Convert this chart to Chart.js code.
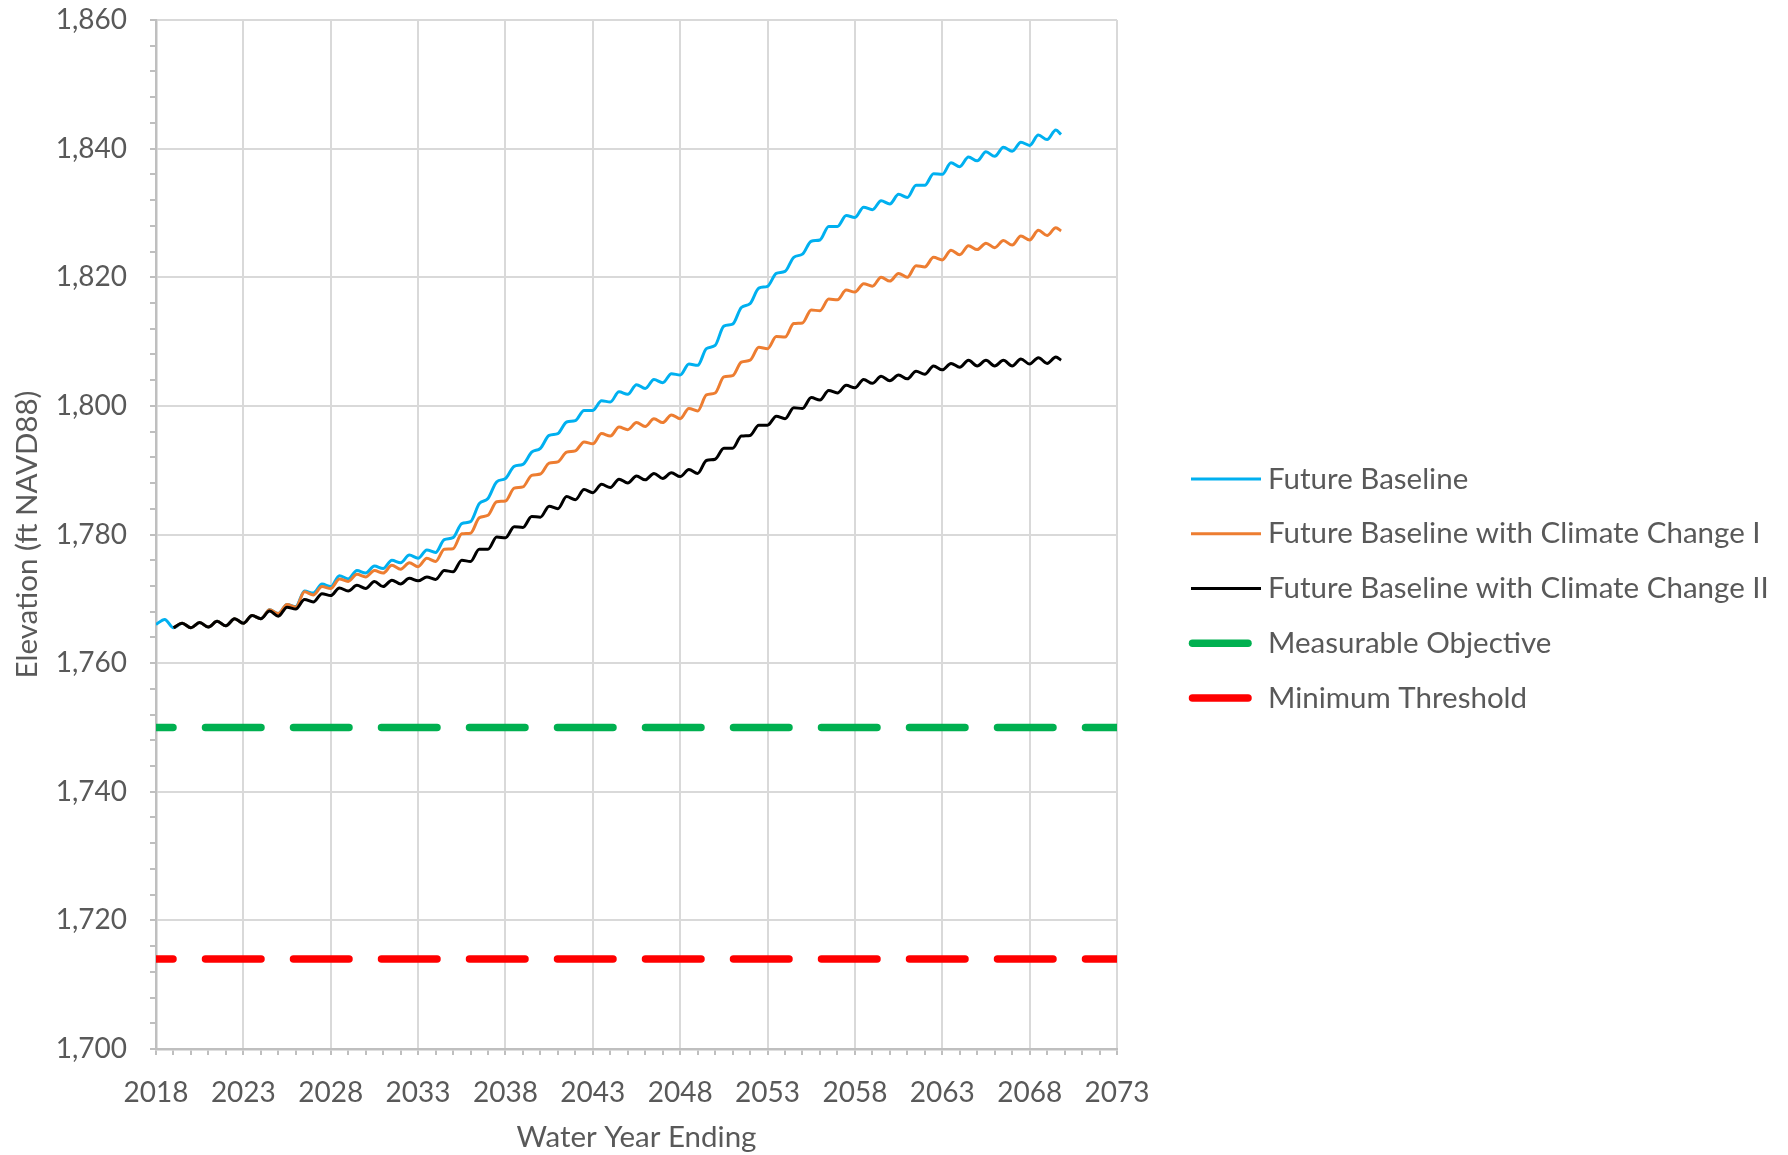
<!DOCTYPE html>
<html>
<head>
<meta charset="utf-8">
<title>Water Year Elevation Projections</title>
<script src="https://cdn.jsdelivr.net/npm/chart.js@4/dist/chart.umd.min.js"></script>
<style>
  html, body { margin: 0; padding: 0; background: #ffffff; }
  canvas { display: block; }
</style>
</head>
<body>
<canvas id="elevation-chart" width="1788" height="1155"></canvas>
<script>
// Water year time steps: end of year (low) and mid year (high) readings
const TIME = [
    2018, 2018.5, 2019, 2019.5, 2020, 2020.5, 2021, 2021.5, 2022, 2022.5,
    2023, 2023.5, 2024, 2024.5, 2025, 2025.5, 2026, 2026.5, 2027, 2027.5,
    2028, 2028.5, 2029, 2029.5, 2030, 2030.5, 2031, 2031.5, 2032, 2032.5,
    2033, 2033.5, 2034, 2034.5, 2035, 2035.5, 2036, 2036.5, 2037, 2037.5,
    2038, 2038.5, 2039, 2039.5, 2040, 2040.5, 2041, 2041.5, 2042, 2042.5,
    2043, 2043.5, 2044, 2044.5, 2045, 2045.5, 2046, 2046.5, 2047, 2047.5,
    2048, 2048.5, 2049, 2049.5, 2050, 2050.5, 2051, 2051.5, 2052, 2052.5,
    2053, 2053.5, 2054, 2054.5, 2055, 2055.5, 2056, 2056.5, 2057, 2057.5,
    2058, 2058.5, 2059, 2059.5, 2060, 2060.5, 2061, 2061.5, 2062, 2062.5,
    2063, 2063.5, 2064, 2064.5, 2065, 2065.5, 2066, 2066.5, 2067, 2067.5,
    2068, 2068.5, 2069, 2069.5, 2069.8,
];

const FUTURE_BASELINE = [
    1766.0, 1766.8, 1765.5, 1766.2, 1765.5, 1766.3, 1765.6, 1766.5, 1765.8, 1766.9,
    1766.2, 1767.4, 1766.9, 1768.3, 1767.7, 1769.1, 1768.8, 1771.2, 1770.9, 1772.3,
    1771.9, 1773.6, 1773.1, 1774.4, 1774.0, 1775.1, 1774.7, 1776.0, 1775.6, 1776.8,
    1776.3, 1777.6, 1777.2, 1779.2, 1779.5, 1781.7, 1782.0, 1784.8, 1785.6, 1788.2,
    1788.7, 1790.6, 1790.9, 1792.8, 1793.4, 1795.4, 1795.7, 1797.5, 1797.7, 1799.3,
    1799.3, 1800.8, 1800.6, 1802.2, 1801.8, 1803.3, 1802.7, 1804.1, 1803.6, 1805.0,
    1804.8, 1806.5, 1806.3, 1808.9, 1809.4, 1812.4, 1812.7, 1815.3, 1815.9, 1818.3,
    1818.6, 1820.6, 1820.9, 1823.1, 1823.6, 1825.6, 1825.8, 1827.9, 1827.9, 1829.6,
    1829.3, 1830.9, 1830.5, 1831.9, 1831.4, 1832.9, 1832.4, 1834.3, 1834.3, 1836.1,
    1836.0, 1837.8, 1837.2, 1838.7, 1838.1, 1839.5, 1838.8, 1840.2, 1839.6, 1841.0,
    1840.5, 1842.1, 1841.4, 1842.9, 1842.2,
];

const CLIMATE_CHANGE_I = [
    null, null, 1765.5, 1766.2, 1765.5, 1766.3, 1765.6, 1766.5, 1765.8, 1766.9,
    1766.2, 1767.4, 1766.9, 1768.3, 1767.7, 1769.1, 1768.7, 1771.1, 1770.6, 1771.9,
    1771.6, 1773.1, 1772.7, 1773.8, 1773.4, 1774.4, 1774.0, 1775.2, 1774.6, 1775.6,
    1775.0, 1776.3, 1775.8, 1777.7, 1777.8, 1780.1, 1780.2, 1782.6, 1783.0, 1785.1,
    1785.2, 1787.2, 1787.4, 1789.2, 1789.4, 1791.1, 1791.3, 1792.8, 1793.0, 1794.4,
    1794.1, 1795.7, 1795.3, 1796.7, 1796.3, 1797.4, 1796.8, 1798.0, 1797.4, 1798.6,
    1798.0, 1799.6, 1799.2, 1801.7, 1802.0, 1804.5, 1804.7, 1806.8, 1807.1, 1809.1,
    1808.9, 1810.8, 1810.7, 1812.8, 1812.9, 1814.9, 1814.8, 1816.6, 1816.5, 1818.0,
    1817.7, 1819.0, 1818.6, 1820.0, 1819.4, 1820.6, 1820.0, 1821.8, 1821.6, 1823.1,
    1822.7, 1824.2, 1823.5, 1824.9, 1824.3, 1825.3, 1824.6, 1825.7, 1825.0, 1826.4,
    1825.8, 1827.3, 1826.5, 1827.7, 1827.2,
];

const CLIMATE_CHANGE_II = [
    null, null, 1765.5, 1766.2, 1765.5, 1766.3, 1765.6, 1766.5, 1765.8, 1766.9,
    1766.2, 1767.4, 1766.9, 1768.1, 1767.3, 1768.7, 1768.4, 1769.9, 1769.5, 1770.8,
    1770.5, 1771.7, 1771.2, 1772.1, 1771.6, 1772.7, 1771.9, 1772.9, 1772.3, 1773.2,
    1772.8, 1773.4, 1773.0, 1774.4, 1774.2, 1776.0, 1775.8, 1777.7, 1777.7, 1779.6,
    1779.5, 1781.2, 1781.1, 1782.8, 1782.7, 1784.4, 1784.0, 1785.9, 1785.4, 1787.0,
    1786.5, 1787.8, 1787.3, 1788.6, 1788.0, 1789.1, 1788.5, 1789.5, 1788.7, 1789.6,
    1789.0, 1790.1, 1789.5, 1791.5, 1791.7, 1793.4, 1793.4, 1795.3, 1795.4, 1797.0,
    1797.0, 1798.4, 1798.0, 1799.7, 1799.6, 1801.3, 1800.9, 1802.4, 1802.0, 1803.2,
    1802.8, 1804.1, 1803.5, 1804.6, 1803.9, 1804.8, 1804.2, 1805.4, 1804.9, 1806.2,
    1805.6, 1806.6, 1806.0, 1807.1, 1806.2, 1807.1, 1806.2, 1807.1, 1806.2, 1807.3,
    1806.5, 1807.5, 1806.6, 1807.6, 1807.1,
];

const MEASURABLE_OBJECTIVE = 1750;
const MINIMUM_THRESHOLD = 1714;

const X_MIN = 2018;
const X_MAX = 2073;
const Y_MIN = 1700;
const Y_MAX = 1860;

const BLUE = '#00b0f0';
const ORANGE = '#ed7d31';
const BLACK = '#000000';
const GREEN = '#00b050';
const RED = '#ff0000';
const TEXT = '#595959';
const GRID = '#d9d9d9';
const AXIS = '#bfbfbf';
const FONT = 'Lato';
const TICK_SIZE = 28;
const LABEL_SIZE = 29.5;

const LEGEND_TOP = 479;
const LEGEND_STEP = 54.75;

function series(values) {
    return TIME.map((t, i) => ({ x: t, y: values[i] }));
}

function flat(value) {
    return [{ x: X_MIN, y: value }, { x: X_MAX, y: value }];
}

function lineDataset(label, values, color, order) {
    return {
        label,
        data: series(values),
        borderColor: color,
        backgroundColor: color,
        borderWidth: 3,
        pointRadius: 0,
        cubicInterpolationMode: 'monotone',
        spanGaps: false,
        order,
    };
}

function dashedDataset(label, value, color, order) {
    return {
        label,
        data: flat(value),
        borderColor: color,
        backgroundColor: color,
        borderWidth: 7.5,
        borderDash: [55.5, 32.5],
        borderDashOffset: 38.5,
        borderCapStyle: 'round',
        pointRadius: 0,
        clip: 0,
        order,
        thick: true,
    };
}

// Legend drawn to the right of the plot, one short line sample per series
const sideLegend = {
    id: 'sideLegend',
    afterDraw(chart) {
        const { ctx, chartArea } = chart;
        ctx.save();
        ctx.font = `${LABEL_SIZE}px ${FONT}`;
        ctx.textBaseline = 'middle';
        ctx.textAlign = 'left';
        chart.data.datasets.forEach((ds, i) => {
            const y = LEGEND_TOP + i * LEGEND_STEP;
            ctx.beginPath();
            ctx.strokeStyle = ds.borderColor;
            ctx.lineWidth = ds.borderWidth;
            ctx.setLineDash([]);
            if (ds.thick) {
                ctx.lineCap = 'round';
                ctx.moveTo(chartArea.right + 75.5, y);
                ctx.lineTo(chartArea.right + 131, y);
            } else {
                ctx.lineCap = 'butt';
                ctx.moveTo(chartArea.right + 74, y);
                ctx.lineTo(chartArea.right + 144, y);
            }
            ctx.stroke();
            ctx.fillStyle = TEXT;
            ctx.fillText(ds.label, chartArea.right + 151, y);
        });
        ctx.restore();
    },
};

function draw() {
    Chart.defaults.font.family = FONT;
    Chart.defaults.font.size = TICK_SIZE;
    Chart.defaults.color = TEXT;

    new Chart(document.getElementById('elevation-chart'), {
        type: 'line',
        data: {
            datasets: [
                lineDataset('Future Baseline', FUTURE_BASELINE, BLUE, 3),
                lineDataset('Future Baseline with Climate Change I', CLIMATE_CHANGE_I, ORANGE, 2),
                lineDataset('Future Baseline with Climate Change II', CLIMATE_CHANGE_II, BLACK, 1),
                dashedDataset('Measurable Objective', MEASURABLE_OBJECTIVE, GREEN, 4),
                dashedDataset('Minimum Threshold', MINIMUM_THRESHOLD, RED, 5),
            ],
        },
        options: {
            responsive: false,
            animation: false,
            events: [],
            layout: { padding: { left: 0, top: 20, right: 671, bottom: 0 } },
            plugins: {
                legend: { display: false },
                tooltip: { enabled: false },
            },
            scales: {
                x: {
                    type: 'linear',
                    min: X_MIN,
                    max: X_MAX,
                    afterFit: (scale) => { scale.height = 106; },
                    ticks: {
                        stepSize: 1,
                        autoSkip: false,
                        maxRotation: 0,
                        padding: 21,
                        color: TEXT,
                        callback: (value) => ((value - X_MIN) % 5 === 0 ? String(value) : ''),
                    },
                    grid: {
                        color: (c) => (((c.tick?.value ?? 0) - X_MIN) % 5 === 0 ? GRID : 'rgba(0,0,0,0)'),
                        lineWidth: 2,
                        tickColor: AXIS,
                        tickLength: 6,
                        tickWidth: 2,
                    },
                    border: { color: AXIS, width: 2.5 },
                    title: {
                        display: true,
                        text: 'Water Year Ending',
                        color: TEXT,
                        font: { size: LABEL_SIZE },
                        padding: { top: 0, bottom: 0 },
                    },
                },
                y: {
                    min: Y_MIN,
                    max: Y_MAX,
                    afterFit: (scale) => {
                        scale.width = 156;
                        // top label may sit in the layout padding
                        scale.paddingTop = 0;
                        scale.paddingBottom = 0;
                    },
                    ticks: {
                        stepSize: 4,
                        autoSkip: false,
                        padding: 23,
                        color: TEXT,
                        callback: (value) => (value % 20 === 0 ? value.toLocaleString('en-US') : ''),
                    },
                    grid: {
                        color: (c) => ((c.tick?.value ?? 0) % 20 === 0 ? GRID : 'rgba(0,0,0,0)'),
                        lineWidth: 2,
                        tickColor: AXIS,
                        tickLength: 6,
                        tickWidth: 2,
                    },
                    border: { color: AXIS, width: 2.5 },
                    title: {
                        display: true,
                        text: 'Elevation (ft NAVD88)',
                        color: TEXT,
                        font: { size: LABEL_SIZE },
                        padding: { top: 10, bottom: 0 },
                    },
                },
            },
        },
        plugins: [sideLegend],
    });
}

if (document.fonts && document.fonts.load) {
    document.fonts.load(`${TICK_SIZE}px ${FONT}`).then(draw, draw);
} else {
    draw();
}
</script>
</body>
</html>
